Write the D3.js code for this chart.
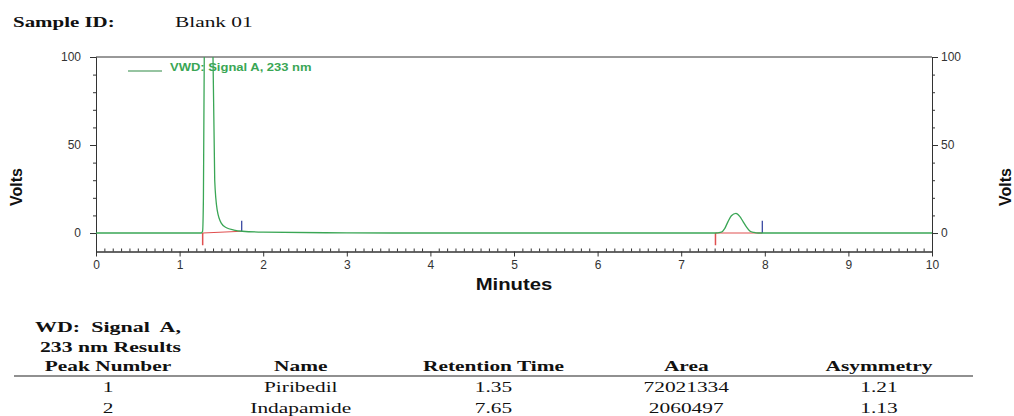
<!DOCTYPE html>
<html>
<head>
<meta charset="utf-8">
<script src="https://cdn.jsdelivr.net/npm/d3@7"></script>
<style>
  body { margin: 0; background: #fff; }
  text { white-space: pre; }
</style>
</head>
<body>
<div id="vis"></div>
<script>
// chromatogram trace (minutes, volts)
const signalTime  = [0, 1.0, 1.26, 1.275, 1.285, 1.295, 1.31, 1.35, 1.38, 1.40, 1.42, 1.45, 1.50, 1.56, 1.65, 1.75, 2.0, 3.0, 4.0,
                     7.40, 7.48, 7.52, 7.56, 7.60, 7.655, 7.70, 7.74, 7.78, 7.82, 7.87, 7.92, 8.2, 10]
const signalVolts = [0, 0, 0, 1, 20, 100, 300, 430, 220, 98, 30, 13, 5.5, 3.0, 1.7, 1.0, 0.5, 0.1, 0,
                     0, 0.5, 2.5, 6.5, 9.8, 11.2, 9.5, 6.5, 3.5, 1.2, 0.3, 0, 0, 0]

// integration marks
const baseStart = [1.276, 7.41]
const baseEnd = [1.743, 7.97]
const baseEndLevel = [1.0, 0]

// results table
const peakNumber = ['1', '2']
const peakName = ['Piribedil', 'Indapamide']
const retentionTime = ['1.35', '7.65']
const peakArea = ['72021334', '2060497']
const asymmetry = ['1.21', '1.13']
const tableHeaders = ['Peak Number', 'Name', 'Retention Time', 'Area', 'Asymmetry']

const yMajor = [0, 50, 100]
const yMinor = [10, 20, 30, 40, 60, 70, 80, 90]

const green = '#3aa655'
const serif = "'Liberation Serif', 'Times New Roman', serif"
const sans = "'Liberation Sans', Arial, sans-serif"

const svg = d3.select('#vis').append('svg')
	.attr('width', 1014)
	.attr('height', 416)

const x = d3.scaleLinear([0, 10], [96, 932])
const y = d3.scaleLinear([-10.5, 100], [251.5, 57])

// stretched text helper (the original is wider than normal fonts)
function label(g, px, py, s, o) {
	return g.append('text')
		.attr('transform', `translate(${px},${py}) scale(${o.sx || 1},1)`)
		.attr('font-family', o.family || sans)
		.attr('font-size', o.size || 12)
		.attr('font-weight', o.bold ? 700 : 400)
		.attr('fill', o.fill || '#111')
		.attr('text-anchor', o.anchor || 'start')
		.text(s)
}

// header
label(svg, 13, 27, 'Sample ID:', {family: serif, size: 15.5, bold: true, sx: 1.35})
label(svg, 175, 27, 'Blank 01', {family: serif, size: 15.5, sx: 1.38})

// axes
const axisColor = '#333'
function styleAxis(g) {
	g.selectAll('path, line').attr('stroke', axisColor)
	g.selectAll('text').attr('font-family', sans).attr('font-size', 12).attr('fill', '#333')
}

svg.append('g')
	.attr('transform', `translate(${x(0)},0)`)
	.call(d3.axisLeft(y).tickValues(yMajor).tickSize(6).tickSizeOuter(0).tickPadding(9))
	.call(styleAxis)
svg.append('g')
	.attr('transform', `translate(${x(0)},0)`)
	.call(d3.axisLeft(y).tickValues(yMinor).tickSize(3).tickFormat('').tickSizeOuter(0))
	.call(styleAxis)
svg.append('g')
	.attr('transform', `translate(${x(10)},0)`)
	.call(d3.axisRight(y).tickValues(yMajor).tickSize(6).tickSizeOuter(0).tickPadding(3))
	.call(styleAxis)
svg.append('g')
	.attr('transform', `translate(${x(10)},0)`)
	.call(d3.axisRight(y).tickValues(yMinor).tickSize(3).tickFormat('').tickSizeOuter(0))
	.call(styleAxis)

svg.append('g')
	.attr('transform', `translate(0,${y.range()[0]})`)
	.call(d3.axisBottom(x).ticks(10).tickSize(5).tickSizeOuter(0).tickPadding(4))
	.call(styleAxis)
svg.append('g')
	.attr('transform', `translate(0,${y.range()[0]})`)
	.call(d3.axisBottom(x).tickValues(d3.range(1, 100).filter(i => i % 10).map(i => i / 10))
		.tickSize(-3).tickFormat('').tickSizeOuter(0))
	.call(styleAxis)

// top border
svg.append('line')
	.attr('x1', x(0)).attr('x2', x(10))
	.attr('y1', y(100)).attr('y2', y(100))
	.attr('stroke', axisColor)

// axis titles
label(svg, 514, 290, 'Minutes', {size: 16, bold: true, sx: 1.27, anchor: 'middle'})
svg.append('text')
	.attr('transform', 'translate(22,187) rotate(-90)')
	.attr('font-family', sans).attr('font-size', 16).attr('font-weight', 700)
	.attr('text-anchor', 'middle').attr('fill', '#111')
	.text('Volts')
svg.append('text')
	.attr('transform', 'translate(1011,187) rotate(-90)')
	.attr('font-family', sans).attr('font-size', 16).attr('font-weight', 700)
	.attr('text-anchor', 'middle').attr('fill', '#111')
	.text('Volts')

// plot clip
svg.append('clipPath').attr('id', 'plotclip')
	.append('rect')
	.attr('x', x(0)).attr('y', y(100))
	.attr('width', x(10) - x(0)).attr('height', y(-10.5) - y(100))

const plot = svg.append('g').attr('clip-path', 'url(#plotclip)')

// integration baselines and marks
baseStart.forEach((s, i) => {
	plot.append('line')
		.attr('x1', x(s)).attr('x2', x(baseEnd[i]))
		.attr('y1', y(0)).attr('y2', y(baseEndLevel[i]))
		.attr('stroke', '#e05050').attr('stroke-width', 1.2)
	plot.append('line')
		.attr('x1', x(s)).attr('x2', x(s))
		.attr('y1', y(0)).attr('y2', y(-7))
		.attr('stroke', '#e05050').attr('stroke-width', 1.5)
	plot.append('line')
		.attr('x1', x(baseEnd[i])).attr('x2', x(baseEnd[i]))
		.attr('y1', y(baseEndLevel[i])).attr('y2', y(7))
		.attr('stroke', '#2a3a9a').attr('stroke-width', 1.2)
})

const trace = signalTime.map((t, i) => [t, signalVolts[i]])
plot.append('path')
	.datum(trace)
	.attr('fill', 'none')
	.attr('stroke', green)
	.attr('stroke-width', 1.3)
	.attr('d', d3.line().x(d => x(d[0])).y(d => y(d[1])).curve(d3.curveMonotoneX))

// legend
svg.append('line')
	.attr('x1', 128).attr('x2', 162).attr('y1', 71).attr('y2', 71)
	.attr('stroke', '#2f8a45').attr('stroke-width', 1.2)
label(svg, 170, 71, 'VWD: Signal A, 233 nm', {size: 10, bold: true, sx: 1.3, fill: green})

// results table
label(svg, 35, 332, 'WD:  Signal  A,', {family: serif, size: 15.5, bold: true, sx: 1.42})
label(svg, 40, 351.5, '233 nm Results', {family: serif, size: 15.5, bold: true, sx: 1.4})

const col = d3.scalePoint(tableHeaders, [108, 879])
tableHeaders.forEach(h => {
	label(svg, col(h), 370.5, h, {family: serif, size: 15.5, bold: true, sx: 1.38, anchor: 'middle'})
})
svg.append('line')
	.attr('x1', 14).attr('x2', 973).attr('y1', 376).attr('y2', 376)
	.attr('stroke', '#222').attr('stroke-width', 1.2)

const columns = [peakNumber, peakName, retentionTime, peakArea, asymmetry]
const rowY = [391.5, 412.5]
columns.forEach((vals, c) => {
	vals.forEach((v, r) => {
		label(svg, col(tableHeaders[c]), rowY[r], v, {family: serif, size: 15.5, sx: 1.38, anchor: 'middle'})
	})
})
</script>
</body>
</html>
